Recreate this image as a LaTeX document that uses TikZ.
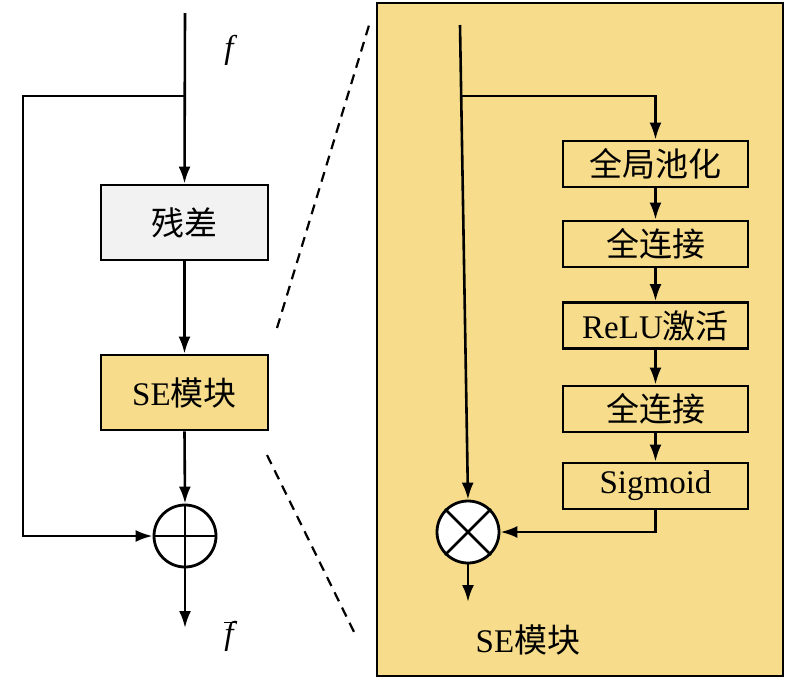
\documentclass[tikz,border=0pt]{standalone}
\usepackage{fontspec}
\setmainfont{Liberation Serif}
\newfontfamily\cjk{Noto Sans CJK SC}
\usetikzlibrary{arrows.meta}
\definecolor{yel}{RGB}{247,221,139}
\definecolor{graybox}{RGB}{242,242,242}
\begin{document}
\begin{tikzpicture}[x=1pt,y=-1pt,
  line width=2.6pt,
  arr/.style={-{Latex[length=17pt,width=12pt]}},
  blk/.style={draw, line width=2.8pt, minimum width=167pt, minimum height=75pt, inner sep=0pt, font=\fontsize{33}{35}\selectfont},
  sbox/.style={draw, line width=2.8pt, minimum width=185pt, minimum height=46pt, inner sep=0pt, font=\fontsize{33}{35}\selectfont},
  opnode/.style={circle, draw, fill=white, line width=2.8pt, minimum size=62pt, inner sep=0pt},
  zoomline/.style={dashed, dash pattern=on 10pt off 7pt, line width=2.2pt},
  lbl/.style={font=\fontsize{33}{35}\selectfont, inner sep=0pt}]
\useasboundingbox (0,0) rectangle (790,683);
% ---------- left ----------
\coordinate (top) at (185,13);
\coordinate (br) at (185,96);
\coordinate (lc) at (23,536);
\coordinate (outL) at (185,628);
\node[blk, fill=graybox] (res) at (184.5,222.5) {\cjk 残差};
\node[blk, fill=yel] (se) at (184.5,392.5) {SE{\cjk 模块}};
\node[opnode] (plus) at (185,536) {};
\draw (plus.north) -- (plus.south);
\draw (plus.west) -- (plus.east);
\draw[arr] (top) -- (res.north);
\draw[arr] (res.south) -- (se.north);
\draw[arr] (se.south) -- (plus.north);
\draw[arr] (br) -| (lc) -- (plus.west);
\draw[arr] (plus.south) -- (outL);
\node[lbl] (fin) at (229,50) {\itshape f};
\node[lbl] (fout) at (229,636) {\itshape f};
\draw[line width=1.8pt] ([xshift=-5pt,yshift=-3pt]fout.north) -- ([xshift=8pt,yshift=-3pt]fout.north);
% ---------- dashed zoom lines ----------
\coordinate (d1a) at (277,328);
\coordinate (d1b) at (370,22);
\coordinate (d2a) at (267,455);
\coordinate (d2b) at (357,638);
\draw[zoomline] (d1a) -- (d1b);
\draw[zoomline] (d2a) -- (d2b);
% ---------- right panel ----------
\node[draw, fill=yel, line width=2.8pt, minimum width=406pt, minimum height=673pt, inner sep=0pt] (panel) at (580,339.5) {};
\node[sbox] (gp) at (655.5,164) {\cjk 全局池化};
\node[sbox] (fc1) at (655.5,244) {\cjk 全连接};
\node[sbox] (relu) at (655.5,325.5) {ReLU{\cjk 激活}};
\node[sbox] (fc2) at (655.5,409) {\cjk 全连接};
\node[sbox] (sig) at (655.5,486) {Sigmoid};
\node[opnode] (mult) at (468,532) {};
\draw (mult.north west) -- (mult.south east);
\draw (mult.north east) -- (mult.south west);
\coordinate (rtop) at (460,25);
\coordinate (rbr) at (461,96);
\coordinate (outR) at (468,602);
\draw[arr] (rtop) -- (mult.north);
\draw[arr] (rbr) -| (gp.north);
\draw[arr] (gp.south) -- (fc1.north);
\draw[arr] (fc1.south) -- (relu.north);
\draw[arr] (relu.south) -- (fc2.north);
\draw[arr] (fc2.south) -- (sig.north);
\draw[arr] (sig.south) |- (mult.east);
\draw[arr] (mult.south) -- (outR);
\node[lbl] (selbl) at (528,640) {SE{\cjk 模块}};
\end{tikzpicture}
\end{document}
